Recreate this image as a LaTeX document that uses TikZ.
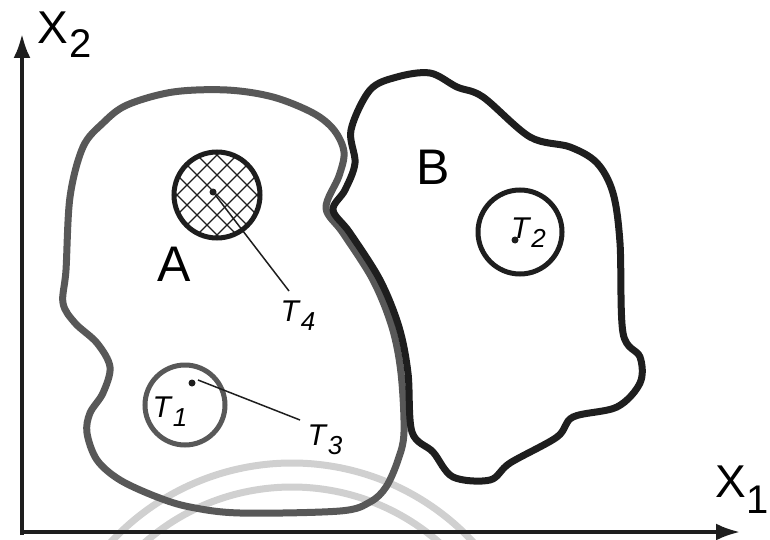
\documentclass[tikz,border=0pt]{standalone}
\usepackage{fontspec}
\setmainfont{Liberation Sans}
\usetikzlibrary{arrows.meta,positioning}
\definecolor{setA}{RGB}{88,88,88}
\definecolor{setB}{RGB}{30,30,30}
\definecolor{wmark}{RGB}{208,208,208}
\newcommand{\tname}[1]{\textit{T}\raisebox{-9pt}{\fontsize{26}{26}\selectfont\itshape #1}}

\begin{document}
\begin{tikzpicture}[
  x=1pt, y=-1pt,
  every node/.style={inner sep=0pt},
  axis/.style={line width=3.5pt, setB, -{Latex[length=24pt,width=17pt]}},
  blob/.style={line width=7pt, line join=round},
  zone/.style={circle, draw, line width=5pt, minimum size=#1},
  pin/.style={circle, fill=setB, minimum size=7pt},
  lead/.style={line width=1.5pt, setB},
  setname/.style={font=\fontsize{50}{50}\selectfont},
  tlbl/.style={font=\fontsize{30}{30}\selectfont}
]
\useasboundingbox (0,0) rectangle (770,540);

% faint arcs at the bottom
\begin{scope}
  \clip (0,0) rectangle (770,540);
  \draw[draw=wmark, line width=7pt] (292,710) ++(220:247) arc[start angle=220, end angle=320, radius=247];
  \draw[draw=wmark, line width=7pt] (292,710) ++(225:223) arc[start angle=225, end angle=315, radius=223];
\end{scope}

% axes
\coordinate (orig) at (22,532);
\coordinate (xend) at (740,532);
\coordinate (yend) at (22,34);
\draw[axis] (orig) -- (xend);
\draw[axis] ([yshift=-3pt]orig) -- (yend);
\node (xtwo) at (53,28) {\fontsize{46}{46}\selectfont X};
\node[right=1pt of xtwo, yshift=-16pt] (xtwoidx) {\fontsize{40}{40}\selectfont 2};
\node (xone) at (731,482) {\fontsize{46}{46}\selectfont X};
\node[right=0pt of xone, yshift=-18pt] (xoneidx) {\fontsize{40}{40}\selectfont 1};

% set A
\draw[blob, setA] plot[smooth cycle, tension=0.55] coordinates {
  (63,303) (66,270) (70,197) (83,147) (103,123) (127,105) (173,92)
  (227,90) (273,97) (313,113) (334,130) (344,152) (339,176) (326,208)
  (343,233) (373,280) (392,327) (401,373) (404,432) (398,460) (386,487)
  (370,502) (340,511) (240,513) (190,507) (157,497) (120,480) (97,460)
  (87,433) (90,413) (103,393) (110,367) (97,343) (75,323)};

% set B
\draw[blob, setB] plot[smooth cycle, tension=0.55] coordinates {
  (351,130) (370,90) (397,77) (430,73) (457,87) (483,97) (530,137)
  (570,147) (597,163) (613,193) (620,243) (623,333) (640,357) (640,383)
  (617,407) (573,417) (557,437) (510,463) (490,480) (453,477) (433,452)
  (412,432) (408,373) (399,327) (380,280) (350,233) (333,210) (345,190)
  (355,163)};

\node[setname] (nameA) at (174,264) {A};
\node[setname] (nameB) at (433,167) {B};

% T4, hatched
\node[zone=86pt, setB] (tfour) at (217,195) {};
\begin{scope}
  \clip (tfour.center) circle (41pt);
  \foreach \d in {-100,-80,...,100} {
    \draw[setB, line width=1.2pt] (217+\d-60,135) -- (217+\d+60,255);
    \draw[setB, line width=1.2pt] (217+\d+60,135) -- (217+\d-60,255);
  }
\end{scope}
\node[pin] (pfour) at (213,192) {};
\node[tlbl] (lfour) at (298,316) {\tname{4}};
\coordinate (efour) at (289,291);
\draw[lead] (pfour) -- (efour);

% T1 and T3
\node[zone=80pt, setA] (tone) at (185,405) {};
\node[tlbl] (lone) at (170,412) {\tname{1}};
\node[pin] (pthree) at (192,383) {};
\coordinate (ethree) at (300,420);
\draw[lead] ([xshift=6pt,yshift=3pt]pthree.center) -- (ethree);
\node[tlbl] (lthree) at (325,440) {\tname{3}};

% T2
\node[zone=84pt, setB] (ttwo) at (520,232) {};
\node[pin] (ptwo) at (515,240) {};
\node[tlbl, anchor=south west] (ltwo) at (511,248) {\tname{2}};

\end{tikzpicture}
\end{document}
